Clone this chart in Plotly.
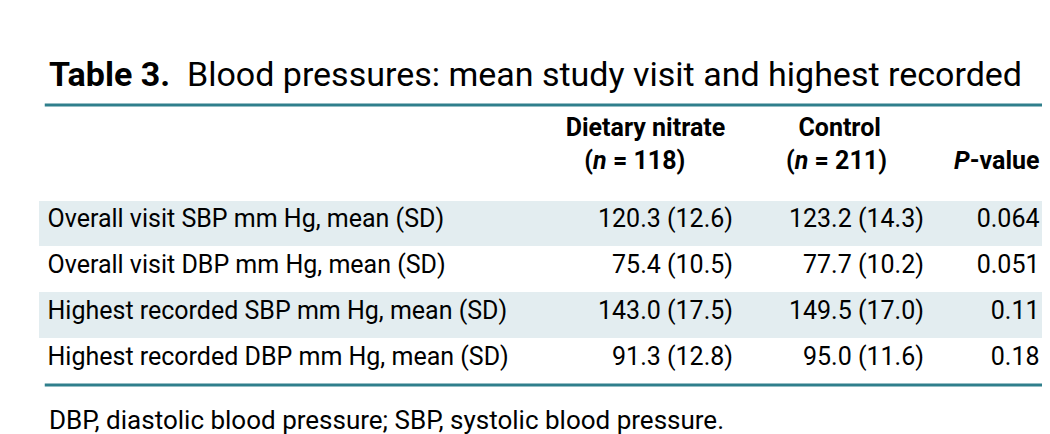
import plotly.graph_objects as go

rows = [
    ["Overall visit SBP mm Hg, mean (SD)", "120.3 (12.6)", "123.2 (14.3)", "0.064"],
    ["Overall visit DBP mm Hg, mean (SD)", "75.4 (10.5)", "77.7 (10.2)", "0.051"],
    ["Highest recorded SBP mm Hg, mean (SD)", "143.0 (17.5)", "149.5 (17.0)", "0.11"],
    ["Highest recorded DBP mm Hg, mean (SD)", "91.3 (12.8)", "95.0 (11.6)", "0.18"],
]
header = ["", "<b>Dietary nitrate</b><br><b>&nbsp;&nbsp;&nbsp;(<i>n</i> = 118)</b>",
          "<b>&nbsp;&nbsp;Control</b><br><b>(<i>n</i> = 211)</b>", "&nbsp;<br><b><i>P</i>-value</b>"]

cols = [list(c) for c in zip(*rows)]
shade = ["#e3edf0", "white", "#e3edf0", "white"]
font = "Roboto, Arial"

fig = go.Figure(go.Table(
    domain=dict(x=[0.03, 0.99], y=[1 - 377 / 434, 1 - 97 / 434]),
    columnwidth=[508, 190, 190, 115],
    header=dict(values=header, height=95, align=["left", "center", "center", "right"],
                fill_color="white", line_color="white",
                font=dict(family=font, size=25, color="black")),
    cells=dict(values=cols, height=46, align=["left", "right", "right", "right"],
               fill_color=[shade] * 4, line_color=[shade] * 4,
               font=dict(family=font, size=25, color="black")),
))

teal = "#2f7f8c"
for y in [97, 377]:
    fig.add_shape(type="line", xref="paper", yref="paper", x0=0.035, x1=0.99,
                  y0=1 - y / 434, y1=1 - y / 434, line=dict(color=teal, width=3))

fig.add_annotation(x=0.037, y=1 - 66 / 434, xref="paper", yref="paper",
                   xanchor="left", yanchor="middle", showarrow=False,
                   text="<b>Table 3.</b>  Blood pressures: mean study visit and highest recorded",
                   font=dict(family=font, size=34, color="black"))
fig.add_annotation(x=0.037, y=1 - 412 / 434, xref="paper", yref="paper",
                   xanchor="left", yanchor="middle", showarrow=False,
                   text="DBP, diastolic blood pressure; SBP, systolic blood pressure.",
                   font=dict(family=font, size=26, color="black"))

fig.update_layout(width=1050, height=434, margin=dict(l=0, r=0, t=0, b=0),
                  paper_bgcolor="white")
fig.write_html("out.html")
